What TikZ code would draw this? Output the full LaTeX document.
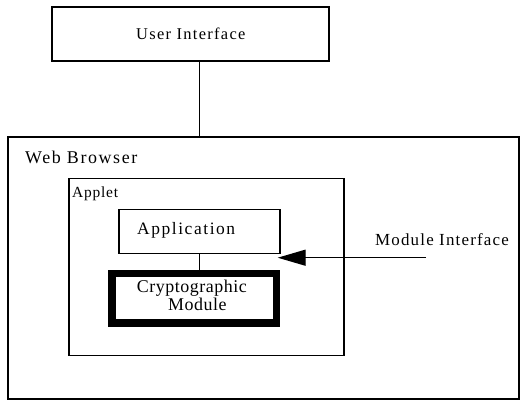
\documentclass[tikz,border=0pt]{standalone}
\usepackage{fontspec}
\setmainfont{Liberation Serif}
\newcommand\txt[3]{\addfontfeatures{LetterSpace=#2}\fontsize{#1}{#1}\selectfont #3}
\usetikzlibrary{arrows.meta}
\begin{document}
\begin{tikzpicture}[x=1bp,y=-1bp,
  box/.style={draw,line width=1.4bp,inner sep=0pt,anchor=center},
  thickbox/.style={draw,line width=7.3bp,inner sep=0pt,anchor=center},
  lbl/.style={inner sep=0pt,anchor=base west},
  conn/.style={line width=1.4bp}]
\useasboundingbox (0,0) rectangle (522,403);
% boxes
\node[box,minimum width=277bp,minimum height=54bp] (ui) at (190.4,33.8) {};
\node[box,minimum width=511bp,minimum height=262bp] (wb) at (263.5,268) {};
\node[box,minimum width=275bp,minimum height=177bp] (ap) at (206.5,266.8) {};
\node[box,minimum width=161bp,minimum height=44bp] (app) at (199.5,231.3) {};
\node[thickbox,minimum width=164.3bp,minimum height=49.1bp] (cm) at (194.2,298.3) {};
% labels
\node[lbl] (uil) at (136,39) {\txt{16.5}{8}{User Interface}};
\node[lbl] (wbl) at (25,163.3) {\txt{18}{9}{Web Browser}};
\node[lbl] (apl) at (72,197) {\txt{15.5}{5}{Applet}};
\node[lbl] (appl) at (137,234.3) {\txt{17.5}{9}{Application}};
\node[lbl] (cml1) at (136.7,292.8) {\txt{18}{3}{Cryptographic}};
\node[lbl] (cml2) at (168,310.3) {\txt{18}{3}{Module}};
\node[lbl] (mil) at (375,245.3) {\txt{17}{7}{Module Interface}};
% connectors
\coordinate (mis) at (426,257.7);
\coordinate (mit) at (277.7,257.7);
\draw[conn] (app.north |- ui.south) -- (app.north |- wb.north);
\draw[conn] (app.south) -- (app.south |- cm.north);
\draw[conn,-{Triangle[length=28bp,width=16bp]}] (mis) -- (mit);
\end{tikzpicture}
\end{document}
